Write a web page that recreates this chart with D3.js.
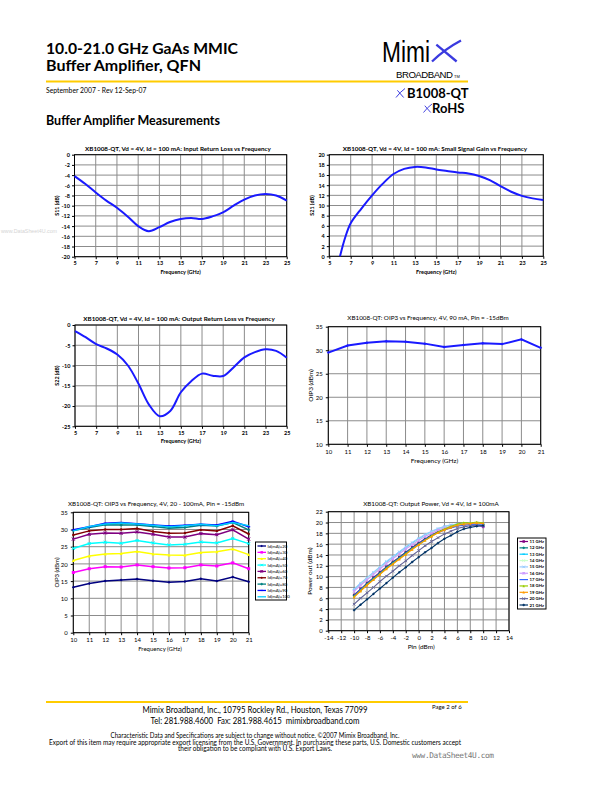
<!DOCTYPE html>
<html>
<head>
<meta charset="utf-8">
<script src="https://cdnjs.cloudflare.com/ajax/libs/d3/7.8.5/d3.min.js"></script>
<style>
  body { margin: 0; background: #fff; }
  svg { display: block; font-family: Lato, "Open Sans", sans-serif; }
  .tick line { stroke: #000; }
  .domain { display: none; }
</style>
</head>
<body>
<div class="page"></div>
<script>
// ---- data ----
var freqS = [5,6,7,8,9,10,11,12,13,14,15,16,17,18,19,20,21,22,23,24,25];
var s11 = [-4.2,-5.7,-7.4,-9.0,-10.4,-12.1,-14.0,-15.0,-14.2,-13.2,-12.6,-12.4,-12.6,-12.1,-11.3,-10.0,-8.8,-8.0,-7.7,-8.0,-9.0];
var s22 = [-1.5,-3.0,-4.7,-5.8,-7.3,-10.0,-14.5,-19.7,-22.5,-21.2,-16.6,-13.8,-12.0,-12.5,-12.6,-10.4,-8.0,-6.7,-6.0,-6.4,-8.1];
var freqGain = [6,6.5,7,8,9,10,11,12,13,14,15,16,17,18,19,20,21,22,23,24,25];
var s21 = [0,3.8,6.5,9.4,12.0,14.3,16.2,17.2,17.6,17.5,17.1,16.8,16.5,16.3,15.8,15.0,13.8,12.7,11.9,11.4,11.1];

var freqOip = [10,11,12,13,14,15,16,17,18,19,20,21];
var oip3_90 = [29.5,31.0,31.6,31.9,31.8,31.4,30.7,31.1,31.5,31.3,32.3,30.5];

var idNames = ["Id(mA)=20","Id(mA)=30","Id(mA)=40","Id(mA)=50","Id(mA)=60","Id(mA)=70","Id(mA)=80","Id(mA)=90","Id(mA)=100"];
var idColors = ["#000080","#ff00ff","#ffff00","#00ffff","#800080","#800000","#008080","#0000ff","#00ccff"];
var idMarkers = ["diamond","square","triangle","x","star","circle","plus","dash","none"];
var oip3Id = [
  [13.2,14.3,15.0,15.3,15.6,15.1,14.7,14.9,15.7,15.0,16.2,14.8],
  [17.5,18.6,19.2,19.1,19.7,19.2,18.8,18.9,19.7,19.4,20.3,18.6],
  [21.0,22.3,22.9,23.0,23.6,22.9,22.6,22.5,23.3,23.5,24.3,22.7],
  [24.5,25.9,26.3,26.0,26.8,26.1,25.5,25.7,26.4,26.1,27.4,25.9],
  [27.2,28.6,29.0,28.9,29.3,28.6,27.8,27.8,28.8,28.5,29.9,27.2],
  [28.4,29.6,30.0,30.0,30.3,29.4,28.9,29.0,29.9,29.6,31.1,28.7],
  [29.7,30.6,31.4,31.3,31.3,30.9,30.4,30.6,31.2,31.0,32.0,29.9],
  [29.9,30.8,31.8,32.0,31.7,31.3,31.0,31.2,31.5,31.3,32.4,30.8],
  [29.6,30.9,31.6,31.9,31.6,31.2,30.8,31.1,31.5,31.1,32.0,31.1]
];

var pin = [-10,-9,-8,-7,-6,-5,-4,-3,-2,-1,0,1,2,3,4,5,6,7,8,9,10];
var pNames = ["11 GHz","12 GHz","13 GHz","14 GHz","15 GHz","16 GHz","17 GHz","18 GHz","19 GHz","20 GHz","21 GHz"];
var pColors = ["#800080","#008080","#00ccff","#ccffcc","#99ccff","#cc99ff","#3366ff","#99cc00","#ff9900","#666699","#003366"];
var pMarkers = ["square","plus","dash","x","x","star","none","triangle","triangle","x","plus"];
var pout = [
  [6.6,7.7,8.8,9.8,10.8,11.8,12.7,13.6,14.5,15.4,16.2,17.0,17.7,18.3,18.8,19.2,19.5,19.7,19.7,19.6,19.2],
  [6.5,7.6,8.7,9.7,10.7,11.7,12.6,13.5,14.4,15.3,16.1,16.9,17.6,18.2,18.7,19.1,19.4,19.6,19.7,19.7,19.6],
  [7.6,8.7,9.7,10.7,11.7,12.7,13.6,14.5,15.4,16.2,17.0,17.7,18.3,18.8,19.2,19.5,19.7,19.8,19.8,19.8,19.7],
  [7.4,8.5,9.6,10.6,11.6,12.5,13.4,14.3,15.2,16.0,16.8,17.5,18.2,18.7,19.1,19.4,19.6,19.7,19.8,19.8,19.7],
  [7.7,8.8,9.8,10.8,11.8,12.8,13.7,14.6,15.5,16.3,17.1,17.8,18.4,18.9,19.3,19.6,19.7,19.8,19.8,19.8,19.6],
  [7.3,8.4,9.4,10.4,11.4,12.4,13.3,14.2,15.1,15.9,16.7,17.4,18.0,18.6,19.0,19.3,19.5,19.6,19.6,19.5,19.3],
  [6.5,7.6,8.6,9.6,10.6,11.6,12.5,13.4,14.3,15.2,16.0,16.8,17.5,18.1,18.6,19.0,19.3,19.5,19.6,19.6,19.5],
  [6.3,7.4,8.5,9.5,10.5,11.5,12.4,13.3,14.2,15.1,15.9,16.7,17.5,18.2,18.8,19.3,19.7,20.0,19.9,20.1,19.9],
  [6.2,7.3,8.4,9.4,10.4,11.4,12.3,13.2,14.1,15.0,15.9,16.7,17.4,18.1,18.6,19.1,19.5,19.7,19.8,19.9,19.8],
  [4.9,6.0,7.0,8.0,9.1,10.1,11.0,12.0,12.9,13.9,14.8,15.7,16.5,17.2,17.9,18.4,18.9,19.2,19.4,19.5,19.5],
  [3.8,4.8,5.8,6.8,7.8,8.8,9.8,10.8,11.7,12.7,13.6,14.5,15.3,16.2,17.0,17.6,18.3,18.8,19.1,19.3,19.4]
];

var svg = d3.select(".page").append("svg").attr("width", 612).attr("height", 792);
svg.append("rect").attr("width", 612).attr("height", 792).attr("fill", "#fff");

// ---- page header ----
svg.append("text").attr("x", 46).attr("y", 54).attr("font-size", 16).attr("font-weight", "bold")
  .attr("textLength", 192).attr("lengthAdjust", "spacingAndGlyphs").text("10.0-21.0 GHz GaAs MMIC");
svg.append("text").attr("x", 46).attr("y", 71).attr("font-size", 16).attr("font-weight", "bold")
  .attr("textLength", 155).attr("lengthAdjust", "spacingAndGlyphs").text("Buffer Amplifier, QFN");
svg.append("line").attr("x1", 46).attr("x2", 468).attr("y1", 81.5).attr("y2", 81.5)
  .attr("stroke", "#ffcc00").attr("stroke-width", 2.2);
svg.append("text").attr("x", 46).attr("y", 92.5).attr("font-size", 6.8).text("September 2007 - Rev 12-Sep-07");
svg.append("text").attr("x", 46).attr("y", 125).attr("font-size", 13.5).attr("font-weight", "bold")
  .attr("textLength", 174).attr("lengthAdjust", "spacingAndGlyphs").text("Buffer Amplifier Measurements");

// logo
svg.append("text").attr("x", 382).attr("y", 61.5).attr("font-size", 29).attr("font-family", "Liberation Sans")
  .attr("textLength", 48).attr("lengthAdjust", "spacingAndGlyphs").text("Mimi");
function blueX(g, x, y, w, h) {
  g.append("path").attr("d", `M${x},${y + h} Q${x + w * 0.45},${y + h * 0.4} ${x + w},${y}`)
    .attr("stroke", "#3a3adf").attr("stroke-width", h * 0.11).attr("fill", "none");
  g.append("path").attr("d", `M${x + w * 0.15},${y + h * 0.2} L${x + w * 0.85},${y + h}`)
    .attr("stroke", "#3a3adf").attr("stroke-width", h * 0.11).attr("fill", "none");
}
blueX(svg, 432, 40.5, 29, 21);
svg.append("text").attr("x", 396).attr("y", 77.5).attr("font-size", 9.6).attr("font-family", "Liberation Sans")
  .attr("textLength", 57).text("BROADBAND");
svg.append("text").attr("x", 454).attr("y", 77.5).attr("font-size", 4).attr("font-family", "Liberation Sans").text("TM");
blueX(svg, 396, 88.5, 9, 9);
svg.append("text").attr("x", 407).attr("y", 97.5).attr("font-size", 13).attr("font-weight", "bold").text("B1008-QT");
blueX(svg, 423.5, 104, 8.5, 8.5);
svg.append("text").attr("x", 432).attr("y", 113).attr("font-size", 13).attr("font-weight", "bold").text("RoHS");

// faint watermark
svg.append("text").attr("x", 1).attr("y", 233).attr("font-size", 5.6).attr("fill", "#d4d4d4")
  .attr("font-family", "Liberation Sans").attr("textLength", 56).attr("lengthAdjust", "spacingAndGlyphs")
  .text("www.DataSheet4U.com");

// ---- markers ----
function drawMarker(g, type, cx, cy, color, s) {
  if (type === "none") return;
  var h = s / 2;
  if (type === "diamond") g.append("path").attr("d", `M${cx},${cy - h} L${cx + h},${cy} L${cx},${cy + h} L${cx - h},${cy} Z`).attr("fill", color);
  if (type === "square") g.append("rect").attr("x", cx - h).attr("y", cy - h).attr("width", s).attr("height", s).attr("fill", color);
  if (type === "triangle") g.append("path").attr("d", `M${cx},${cy - h} L${cx + h},${cy + h} L${cx - h},${cy + h} Z`).attr("fill", color);
  if (type === "circle") g.append("circle").attr("cx", cx).attr("cy", cy).attr("r", h * 0.8).attr("fill", color);
  if (type === "x" || type === "star")
    g.append("path").attr("d", `M${cx - h},${cy - h} L${cx + h},${cy + h} M${cx - h},${cy + h} L${cx + h},${cy - h}`).attr("stroke", color).attr("stroke-width", 1);
  if (type === "star" || type === "plus")
    g.append("path").attr("d", `M${cx},${cy - h} L${cx},${cy + h}`).attr("stroke", color).attr("stroke-width", 1);
  if (type === "plus" || type === "dash")
    g.append("path").attr("d", `M${cx - h},${cy} L${cx + h},${cy}`).attr("stroke", color).attr("stroke-width", 1.2);
}

// ---- a plot frame with grid, ticks and labels ----
function makeFrame(c) {
  var x = d3.scaleLinear().domain(c.xDomain).range([c.left, c.right]);
  var y = d3.scaleLinear().domain(c.yDomain).range([c.bottom, c.top]);
  var g = svg.append("g");

  g.selectAll(".vg").data(c.xTicks).enter().append("line")
    .attr("x1", d => x(d)).attr("x2", d => x(d)).attr("y1", c.top).attr("y2", c.bottom)
    .attr("stroke", "#8c8c8c").attr("stroke-width", 1);
  g.selectAll(".hg").data(c.yTicks).enter().append("line")
    .attr("x1", c.left).attr("x2", c.right).attr("y1", d => y(d)).attr("y2", d => y(d))
    .attr("stroke", "#8c8c8c").attr("stroke-width", 1);
  g.append("rect").attr("x", c.left).attr("y", c.top).attr("width", c.right - c.left).attr("height", c.bottom - c.top)
    .attr("fill", "none").attr("stroke", "#000").attr("stroke-width", 1);

  var bottomAxis = d3.axisBottom(x).tickValues(c.xTicks).tickSize(2.5).tickPadding(c.xPad || 2).tickFormat(d => String(d));
  var leftAxis = d3.axisLeft(y).tickValues(c.yTicks).tickSize(2.5).tickPadding(c.yPad || 2).tickFormat(d => String(d));
  var xa = g.append("g").attr("transform", `translate(0, ${c.bottom})`).call(bottomAxis);
  var ya = g.append("g").attr("transform", `translate(${c.left}, 0)`).call(leftAxis);
  [xa, ya].forEach(function(a) {
    a.selectAll("text").attr("font-size", c.tickSize).attr("font-weight", c.tickBold ? "bold" : "normal")
      .attr("font-family", "Lato, sans-serif").attr("fill", "#000");
  });
  ya.selectAll("text").attr("dy", "0.35em");

  g.append("text").attr("x", c.titleX).attr("y", c.titleY).attr("text-anchor", "middle")
    .attr("font-size", c.titleSize).attr("font-weight", c.titleBold ? "bold" : "normal").text(c.title);
  g.append("text").attr("x", (c.left + c.right) / 2 + (c.xLabelDx || 0)).attr("y", c.xLabelY).attr("text-anchor", "middle")
    .attr("font-size", c.labelSize).attr("font-weight", c.labelBold ? "bold" : "normal").text(c.xLabel);
  g.append("text").attr("transform", `translate(${c.yLabelX}, ${(c.top + c.bottom) / 2}) rotate(-90)`)
    .attr("text-anchor", "middle").attr("font-size", c.labelSize).attr("font-weight", c.labelBold ? "bold" : "normal")
    .text(c.yLabel);
  return { g: g, x: x, y: y };
}

function smoothLine(f, xs, ys, color, w) {
  var line = d3.line().x((d, i) => f.x(xs[i])).y(d => f.y(d)).curve(d3.curveCatmullRom.alpha(0.5));
  f.g.append("path").datum(ys).attr("d", line).attr("fill", "none").attr("stroke", color).attr("stroke-width", w);
}

// Chart 1: S11
var c1 = makeFrame({
  left: 74.5, right: 286.7, top: 154.7, bottom: 256.7,
  xDomain: [5, 25], yDomain: [-20, 0], xTicks: d3.range(5, 26, 2), yTicks: d3.range(-20, 1, 2),
  tickSize: 5.5, tickBold: true, titleX: 178, titleY: 150.5, titleSize: 6.3, titleBold: true,
  title: "XB1008-QT, Vd = 4V, Id = 100 mA: Input Return Loss vs Frequency",
  xLabel: "Frequency (GHz)", xLabelY: 274, yLabel: "S11 (dB)", yLabelX: 59, labelSize: 5.5, labelBold: true
});
smoothLine(c1, freqS, s11, "#1a1aff", 2);

// Chart 2: S21
var c2 = makeFrame({
  left: 329.3, right: 543.3, top: 154.7, bottom: 256.3,
  xDomain: [5, 25], yDomain: [0, 20], xTicks: d3.range(5, 26, 2), yTicks: d3.range(0, 21, 2),
  tickSize: 5.5, tickBold: true, titleX: 435, titleY: 150.5, titleSize: 6.3, titleBold: true,
  title: "XB1008-QT, Vd = 4V, Id = 100 mA: Small Signal Gain vs Frequency",
  xLabel: "Frequency (GHz)", xLabelY: 274, yLabel: "S21 (dB)", yLabelX: 314, labelSize: 5.5, labelBold: true
});
smoothLine(c2, freqGain, s21, "#1a1aff", 2);

// Chart 3: S22
var c3 = makeFrame({
  left: 75, right: 286.7, top: 325, bottom: 426.3,
  xDomain: [5, 25], yDomain: [-25, 0], xTicks: d3.range(5, 26, 2), yTicks: d3.range(-25, 1, 5),
  tickSize: 5.5, tickBold: true, titleX: 179, titleY: 320.5, titleSize: 6.3, titleBold: true,
  title: "XB1008-QT, Vd = 4V, Id = 100 mA: Output Return Loss vs Frequency",
  xLabel: "Frequency (GHz)", xLabelY: 443, yLabel: "S22 (dB)", yLabelX: 59, labelSize: 5.5, labelBold: true
});
smoothLine(c3, freqS, s22, "#1a1aff", 2);

// Chart 4: OIP3 at 90 mA
var c4 = makeFrame({
  left: 328.3, right: 540.7, top: 326.7, bottom: 444.3,
  xDomain: [10, 21], yDomain: [10, 35], xTicks: d3.range(10, 22, 1), yTicks: d3.range(10, 36, 5),
  tickSize: 6, tickBold: false, xPad: 3, yPad: 3, titleX: 428, titleY: 320, titleSize: 6.3, titleBold: false,
  title: "XB1008-QT:  OIP3 vs Frequency, 4V, 90 mA, Pin = -15dBm",
  xLabel: "Frequency (GHz)", xLabelY: 463, yLabel: "OIP3 (dBm)", yLabelX: 313, labelSize: 6.5, labelBold: false
});
c4.g.append("path").datum(oip3_90)
  .attr("d", d3.line().x((d, i) => c4.x(freqOip[i])).y(d => c4.y(d)))
  .attr("fill", "none").attr("stroke", "#1a1aff").attr("stroke-width", 2);
oip3_90.forEach((v, i) => drawMarker(c4.g, "diamond", c4.x(freqOip[i]), c4.y(v), "#1a1aff", 3));

// Chart 5: OIP3 vs Id
var c5 = makeFrame({
  left: 73.3, right: 248.7, top: 512.3, bottom: 632.7,
  xDomain: [10, 21], yDomain: [0, 35], xTicks: d3.range(10, 22, 1), yTicks: d3.range(0, 36, 5),
  tickSize: 6, tickBold: false, xPad: 3, yPad: 3, titleX: 156, titleY: 506, titleSize: 6.3, titleBold: false,
  title: "XB1008-QT: OIP3 vs Frequency, 4V, 20 - 100mA, Pin = -15dBm",
  xLabel: "Frequency (GHz)", xLabelY: 651, xLabelDx: -1, yLabel: "OIP3  (dBm)", yLabelX: 59, labelSize: 6, labelBold: false
});
oip3Id.forEach(function(row, k) {
  c5.g.append("path").datum(row)
    .attr("d", d3.line().x((d, i) => c5.x(freqOip[i])).y(d => c5.y(d)))
    .attr("fill", "none").attr("stroke", idColors[k]).attr("stroke-width", 1.5);
  row.forEach((v, i) => drawMarker(c5.g, idMarkers[k], c5.x(freqOip[i]), c5.y(v), idColors[k], 3));
});
var leg5 = svg.append("g");
leg5.append("rect").attr("x", 255.5).attr("y", 542).attr("width", 31).attr("height", 58)
  .attr("fill", "#fff").attr("stroke", "#000").attr("stroke-width", 1);
idNames.forEach(function(n, k) {
  var yy = 546 + k * 6.35;
  leg5.append("line").attr("x1", 257.5).attr("x2", 266).attr("y1", yy).attr("y2", yy)
    .attr("stroke", idColors[k]).attr("stroke-width", 1.3);
  drawMarker(leg5, idMarkers[k], 261.7, yy, idColors[k], 2.5);
  leg5.append("text").attr("x", 267.5).attr("y", yy + 1.5).attr("font-size", 4.3).text(n);
});

// Chart 6: output power vs Pin
var c6 = makeFrame({
  left: 328.3, right: 509, top: 511.7, bottom: 630.7,
  xDomain: [-14, 14], yDomain: [0, 22], xTicks: d3.range(-14, 15, 2), yTicks: d3.range(0, 23, 2),
  tickSize: 6, tickBold: false, xPad: 3, yPad: 3, titleX: 431, titleY: 506, titleSize: 6.3, titleBold: false,
  title: "XB1008-QT: Output Power,  Vd = 4V, Id = 100mA",
  xLabel: "Pin (dBm)", xLabelY: 649, xLabelDx: 2.5, yLabel: "Power out (dBm)", yLabelX: 312, labelSize: 6.5, labelBold: false
});
pout.forEach(function(row, k) {
  c6.g.append("path").datum(row)
    .attr("d", d3.line().x((d, i) => c6.x(pin[i])).y(d => c6.y(d)))
    .attr("fill", "none").attr("stroke", pColors[k]).attr("stroke-width", 1.1);
  row.forEach((v, i) => drawMarker(c6.g, pMarkers[k], c6.x(pin[i]), c6.y(v), pColors[k], 2.5));
});
var leg6 = svg.append("g");
leg6.append("rect").attr("x", 517.5).attr("y", 538).attr("width", 28.5).attr("height", 71)
  .attr("fill", "#fff").attr("stroke", "#000").attr("stroke-width", 1);
pNames.forEach(function(n, k) {
  var yy = 541.5 + k * 6.35;
  leg6.append("line").attr("x1", 519.5).attr("x2", 528).attr("y1", yy).attr("y2", yy)
    .attr("stroke", pColors[k]).attr("stroke-width", 1.2);
  drawMarker(leg6, pMarkers[k], 523.7, yy, pColors[k], 2.5);
  leg6.append("text").attr("x", 529.5).attr("y", yy + 1.5).attr("font-size", 4.3).attr("font-weight", "bold").text(n);
});

// ---- footer ----
svg.append("line").attr("x1", 46).attr("x2", 468).attr("y1", 702).attr("y2", 702)
  .attr("stroke", "#ffcc00").attr("stroke-width", 2.2);
var foot = [
  { t: "Mimix Broadband, Inc., 10795 Rockley Rd., Houston, Texas 77099", y: 712.7, s: 10, w: 225 },
  { t: "Tel: 281.988.4600  Fax: 281.988.4615  mimixbroadband.com", y: 723.7, s: 10, w: 209 },
  { t: "Characteristic Data and Specifications are subject to change without notice. \u00a92007 Mimix Broadband, Inc.", y: 737.5, s: 6.6, w: 289 },
  { t: "Export of this item may require appropriate export licensing from the U.S. Government. In purchasing these parts, U.S. Domestic customers accept", y: 744.5, s: 6.6, w: 412 },
  { t: "their obligation to be compliant with U.S. Export Laws.", y: 751.3, s: 6.6, w: 154 }
];
svg.selectAll(".foot").data(foot).enter().append("text")
  .attr("x", 255).attr("y", d => d.y).attr("text-anchor", "middle").attr("font-size", d => d.s)
  .attr("textLength", d => d.w).attr("lengthAdjust", "spacingAndGlyphs")
  .style("white-space", "pre").text(d => d.t);
svg.append("text").attr("x", 432).attr("y", 709).attr("font-size", 6).text("Page 2 of 6");
svg.append("text").attr("x", 412).attr("y", 758).attr("font-size", 7.8).attr("fill", "#777")
  .attr("font-family", "DejaVu Sans Mono").attr("textLength", 82).text("www.DataSheet4U.com");
</script>
</body>
</html>
